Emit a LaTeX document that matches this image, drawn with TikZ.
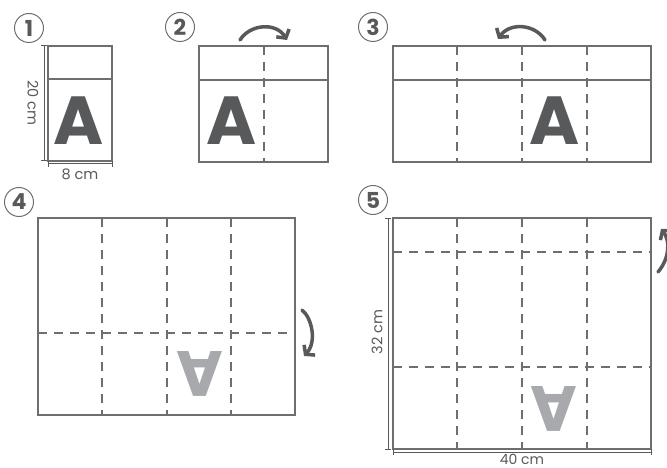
\documentclass[tikz,border=0pt]{standalone}
\usepackage{fontspec}
\setmainfont{Poppins}
\usetikzlibrary{arrows.meta}
\definecolor{edge}{HTML}{6D6E71}
\definecolor{dark}{HTML}{58595B}
\definecolor{light}{HTML}{A7A9AC}
\tikzset{
  sheet/.style={draw=edge, line width=1.3pt},
  fold/.style={draw=edge, line width=1.2pt, dash pattern=on 9pt off 7pt},
  dim/.style={draw=dark, line width=1pt},
  foldarrow/.style={draw=dark, line width=3.5pt, line cap=round, -{Straight Barb[length=6pt,width=15pt,line width=3.5pt]}},
  bigA/.style={text=dark, font=\fontsize{68}{68}\selectfont\bfseries, inner sep=0pt},
  backA/.style={text=light, font=\fontsize{64}{64}\selectfont\bfseries, inner sep=0pt, rotate=180},
  stepnum/.style={circle, draw=edge, line width=1pt, minimum size=29pt, inner sep=0pt, text=dark, font=\fontsize{22}{22}\selectfont\bfseries},
  dimlabel/.style={text=dark, font=\fontsize{14.5}{14.5}\selectfont, inner sep=0pt}
}
\begin{document}
\begin{tikzpicture}[x=1pt,y=-1pt]
\useasboundingbox (0,0) rectangle (667,468);
% step numbers
\node[stepnum] (n1) at (29,28) {1};
\node[stepnum] (n2) at (180,27) {2};
\node[stepnum] (n3) at (373,27) {3};
\node[stepnum] (n4) at (19,202) {4};
\node[stepnum] (n5) at (373,200) {5};

% ---- panel 1
\draw[sheet] (48,46) rectangle (112,161);
\draw[sheet] (48,79) -- (112,79);
\node[bigA] (a1) at (79,121) {A};
\coordinate (d1t) at (44,46); \coordinate (d1b) at (44,161);
\draw[dim] (d1t) -- (d1b);
\draw[dim] (41,46) -- (47,46); \draw[dim] (41,161) -- (47,161);
\node[dimlabel, rotate=-90] (l20) at (33,103) {20 cm};
\coordinate (d1l) at (48,164); \coordinate (d1r) at (112,164);
\draw[dim] (d1l) -- (d1r);
\draw[dim] (48,161) -- (48,167); \draw[dim] (112,161) -- (112,167);
\node[dimlabel] (l8) at (80,174) {8 cm};

% ---- panel 2
\draw[sheet] (199,46) rectangle (328,162);
\draw[sheet] (199,80) -- (328,80);
\draw[fold] (264,46) -- (264,162);
\node[bigA] (a2) at (231.5,121) {A};
\coordinate (r2s) at (240,40); \coordinate (r2e) at (287,40);
\draw[foldarrow] (r2s) .. controls (250,24) and (276,22) .. (r2e);

% ---- panel 3
\draw[sheet] (393,46) rectangle (651,162);
\draw[sheet] (393,80) -- (651,80);
\foreach \x in {457,522,587} \draw[fold] (\x,46) -- (\x,162);
\node[bigA] (a3) at (554.5,121) {A};
\coordinate (r3s) at (545,40); \coordinate (r3e) at (498,39);
\draw[foldarrow] (r3s) .. controls (535,24) and (510,22) .. (r3e);

% ---- panel 4
\draw[sheet] (38,218) rectangle (295,415);
\draw[fold] (38,333) -- (295,333);
\foreach \x in {102,167,231} \draw[fold] (\x,218) -- (\x,415);
\node[backA] (a4) at (199.5,374) {A};
\coordinate (r4s) at (302,310); \coordinate (r4e) at (304,356);
\draw[foldarrow] (r4s) .. controls (312,318) and (317,342) .. (r4e);

% ---- panel 5
\draw[sheet] (393,218) rectangle (651,449);
\foreach \y in {252,367} \draw[fold] (393,\y) -- (651,\y);
\foreach \x in {457,522,587} \draw[fold] (\x,218) -- (\x,449);
\node[backA] (a5) at (554,408.5) {A};
\coordinate (r5s) at (658,272); \coordinate (r5e) at (661,229);
\draw[foldarrow] (r5s) .. controls (670,258) and (670,240) .. (r5e);
\coordinate (d5t) at (388,218); \coordinate (d5b) at (388,449);
\draw[dim] (d5t) -- (d5b);
\draw[dim] (385,218) -- (391,218); \draw[dim] (385,449) -- (391,449);
\node[dimlabel, rotate=90] (l32) at (377,332) {32 cm};
\coordinate (d5l) at (393,452); \coordinate (d5r) at (651,452);
\draw[dim] (d5l) -- (d5r);
\draw[dim] (393,449) -- (393,455); \draw[dim] (651,449) -- (651,455);
\node[dimlabel, font=\fontsize{14}{14}\selectfont] (l40) at (522,459) {40 cm};
\end{tikzpicture}
\end{document}
